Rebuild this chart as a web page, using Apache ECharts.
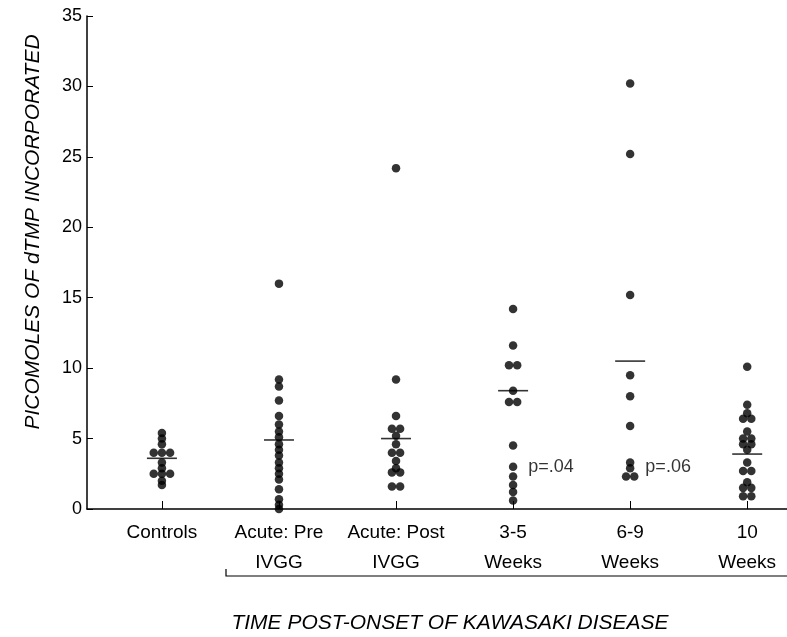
<!DOCTYPE html>
<html lang="en">
  <head>
    <meta charset="UTF-8" />
    <title>dTMP incorporation, Kawasaki disease</title>
    <script src="https://cdn.jsdelivr.net/npm/echarts@6/dist/echarts.min.js"></script>
    <style>
      html, body { margin: 0; padding: 0; background: #fff; }
      #main { width: 787px; height: 637px; }
    </style>
  </head>
  <body>
    <div id="main"></div>

    <script>
      // group labels along the x axis
      const groups = [
        'Controls',
        'Acute: Pre\nIVGG',
        'Acute: Post\nIVGG',
        '3-5\nWeeks',
        '6-9\nWeeks',
        '10\nWeeks',
      ];

      // picomoles per subject
      const controls = [5.4, 5.0, 4.6, 4.0, 4.0, 4.0, 3.3, 2.9, 2.5, 2.5, 2.5, 2.0, 1.7];
      const acutePre = [16.0, 9.2, 8.7, 7.7, 6.6, 6.0, 5.5, 5.1, 4.6, 4.2, 3.8, 3.3, 2.9, 2.5, 2.1, 1.4, 0.7, 0.3, 0.0];
      const acutePost = [24.2, 9.2, 6.6, 5.7, 5.7, 5.2, 4.6, 4.0, 4.0, 3.4, 2.9, 2.6, 2.6, 1.6, 1.6];
      const weeks3to5 = [14.2, 11.6, 10.2, 10.2, 8.4, 7.6, 7.6, 4.5, 3.0, 2.3, 1.7, 1.2, 0.6];
      const weeks6to9 = [30.2, 25.2, 15.2, 9.5, 8.0, 5.9, 3.3, 2.9, 2.3, 2.3];
      const weeks10 = [10.1, 7.4, 6.8, 6.4, 6.4, 5.5, 5.0, 5.0, 4.6, 4.6, 4.2, 3.3, 2.7, 2.7, 1.9, 1.5, 1.5, 0.9, 0.9];

      // group means (short horizontal bars)
      const means = [3.6, 4.9, 5.0, 8.4, 10.5, 3.9];

      // p-value notes: [x, y, text]
      const notes = [
        [3.13, 3.0, 'p=.04'],
        [4.13, 3.0, 'p=.06'],
      ];

      const yTicks = [0, 5, 10, 15, 20, 25, 30, 35];

      const columns = [controls, acutePre, acutePost, weeks3to5, weeks6to9, weeks10];

      // spread equal values side by side, like the hand-drawn dot plot
      function spreadColumn(values, col) {
        const step = 0.07;
        const counts = {};
        values.forEach((v) => (counts[v] = (counts[v] || 0) + 1));
        const seen = {};
        return values.map((v) => {
          const n = counts[v];
          const k = seen[v] || 0;
          seen[v] = k + 1;
          return [col + (k - (n - 1) / 2) * step, v];
        });
      }

      const dots = [];
      columns.forEach((vals, i) => dots.push(...spreadColumn(vals, i)));

      const font = "'Liberation Sans', sans-serif";

      const options = {
        animation: false,
        backgroundColor: '#fff',
        grid: { left: 87, right: 0, top: 16, bottom: 128 },
        xAxis: {
          type: 'value',
          min: -0.64,
          max: 5.34,
          splitLine: { show: false },
          axisLine: { onZero: false, lineStyle: { color: '#000', width: 1.5 } },
          axisTick: {
            inside: true,
            length: 8,
            customValues: [0, 1, 2, 3, 4, 5],
            lineStyle: { color: '#000' },
          },
          axisLabel: {
            customValues: [0, 1, 2, 3, 4, 5],
            formatter: (v) => groups[Math.round(v)] || '',
            color: '#000',
            fontFamily: font,
            fontSize: 19,
            lineHeight: 30,
            margin: 9,
            verticalAlign: 'top',
          },
        },
        yAxis: {
          type: 'value',
          min: 0,
          max: 35,
          interval: 5,
          splitLine: { show: false },
          axisLine: { show: true, onZero: false, lineStyle: { color: '#000', width: 1.5 } },
          axisTick: { show: true, inside: true, length: 6, lineStyle: { color: '#000' } },
          axisLabel: {
            formatter: (v) => (yTicks.includes(v) ? String(v) : ''),
            color: '#000',
            fontFamily: font,
            fontSize: 18,
            margin: 5,
          },
        },
        graphic: [
          {
            type: 'text',
            x: 33,
            y: 232,
            rotation: Math.PI / 2,
            style: {
              text: 'PICOMOLES OF dTMP INCORPORATED',
              font: "italic 21px 'Liberation Sans', sans-serif",
              fill: '#000',
              align: 'center',
              verticalAlign: 'middle',
            },
          },
          {
            type: 'text',
            x: 450,
            y: 623,
            style: {
              text: 'TIME POST-ONSET OF KAWASAKI DISEASE',
              font: "italic 21px 'Liberation Sans', sans-serif",
              fill: '#000',
              align: 'center',
              verticalAlign: 'middle',
            },
          },
          {
            type: 'polyline',
            shape: { points: [[226, 569], [226, 576], [787, 576]] },
            style: { stroke: '#000', lineWidth: 1.2, fill: null },
          },
        ],
        series: [
          {
            type: 'scatter',
            data: dots,
            symbol: 'circle',
            symbolSize: 8.5,
            itemStyle: { color: '#000' },
            silent: true,
          },
          {
            type: 'scatter',
            data: means.map((m, i) => [i, m]),
            symbol: 'rect',
            symbolSize: [30, 1.6],
            itemStyle: { color: '#000' },
            silent: true,
          },
          {
            type: 'scatter',
            data: notes.map((n) => [n[0], n[1], n[2]]),
            symbolSize: 0,
            silent: true,
            label: {
              show: true,
              position: 'right',
              distance: 0,
              formatter: (p) => p.data[2],
              color: '#000',
              fontFamily: font,
              fontSize: 18,
            },
          },
        ],
      };

      var myChart = echarts.init(document.querySelector('#main'), null, { renderer: 'canvas' });
      myChart.setOption(options);
    </script>
  </body>
</html>
